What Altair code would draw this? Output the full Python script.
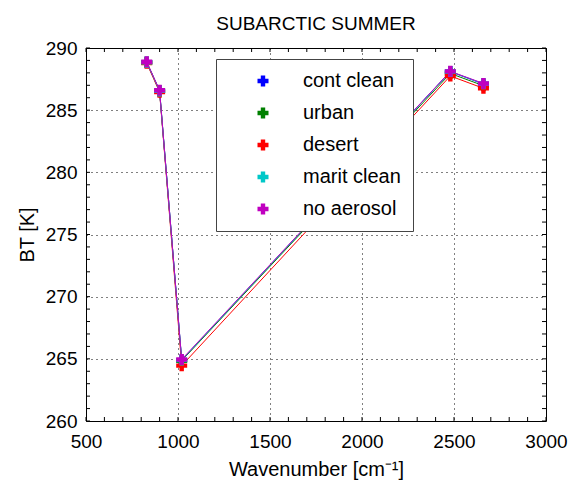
import altair as alt
import pandas as pd

# ---- data ----
wavenumber = [830, 900, 1020, 2480, 2660]
series_names = ["cont clean", "urban", "desert", "marit clean", "no aerosol"]
cont_clean = [288.85, 286.55, 264.90, 288.10, 287.10]
urban = [288.85, 286.55, 264.85, 287.95, 286.97]
desert = [288.78, 286.45, 264.45, 287.75, 286.76]
marit_clean = [288.85, 286.55, 264.90, 288.10, 287.12]
no_aerosol = [288.90, 286.60, 264.95, 288.12, 287.15]
series_colors = ["#0000FF", "#008000", "#FF0000", "#00C8C8", "#C000C0"]

x_major = [500, 1000, 1500, 2000, 2500, 3000]
y_major = [260, 265, 270, 275, 280, 285, 290]
x_minor = list(range(500, 3001, 100))
y_minor = list(range(260, 291, 1))

FONT = "Liberation Sans"

rows = []
for name, vals in zip(series_names,
                      [cont_clean, urban, desert, marit_clean, no_aerosol]):
    for w, v in zip(wavenumber, vals):
        rows.append({"series": name, "wn": w, "bt": v})
df = pd.DataFrame(rows)

xscale = alt.Scale(domain=[500, 3000], nice=False, zero=False)
yscale = alt.Scale(domain=[260, 290], nice=False, zero=False)
xaxis = alt.Axis(values=x_major, format="d", grid=True, gridColor="black",
                 gridDash=[1, 4], gridOpacity=1, ticks=False, domain=False,
                 labelFont=FONT, labelFontSize=19, labelColor="black",
                 labelPadding=11, titleFont=FONT, titleFontSize=20,
                 titleFontWeight="normal", titleColor="black", titlePadding=8,
                 labelFlush=False)
yaxis = alt.Axis(values=y_major, format="d", grid=True, gridColor="black",
                 gridDash=[1, 4], gridOpacity=1, ticks=False, domain=False,
                 labelFont=FONT, labelFontSize=19, labelColor="black",
                 labelPadding=9, titleFont=FONT, titleFontSize=20,
                 titleFontWeight="normal", titleColor="black", titlePadding=8,
                 labelFlush=False)
xenc = alt.X("wn:Q", scale=xscale, axis=xaxis, title="Wavenumber [cm⁻¹]")
yenc = alt.Y("bt:Q", scale=yscale, axis=yaxis, title="BT [K]")

cscale = alt.Scale(domain=series_names, range=series_colors)

line_layers = []
for name, col in zip(series_names, series_colors):
    line_layers.append(
        alt.Chart(df).transform_filter(alt.datum.series == name)
        .mark_line(strokeWidth=1, color=col)
        .encode(x=xenc, y=yenc)
    )

points = alt.Chart(df).mark_point(shape="cross", filled=True, size=121, opacity=1).encode(
    x=xenc, y=yenc,
    color=alt.Color("series:N", scale=cscale, title="",
                    legend=alt.Legend(orient="none", legendX=130, legendY=11,
                                      symbolType="cross", symbolSize=121,
                                      symbolStrokeWidth=0, symbolOpacity=1,
                                      labelFont=FONT, labelFontSize=20,
                                      labelColor="black", labelOffset=30,
                                      symbolOffset=25, rowPadding=12,
                                      padding=12, strokeColor="#444444",
                                      fillColor="white", cornerRadius=0)),
)

xm = pd.DataFrame({"wn": x_minor})
ym = pd.DataFrame({"bt": y_minor})
xt_bottom = alt.Chart(xm).mark_rule(color="black", strokeWidth=1).encode(
    x=xenc, y=alt.value(373), y2=alt.value(369))
xt_top = alt.Chart(xm).mark_rule(color="black", strokeWidth=1).encode(
    x=xenc, y=alt.value(0), y2=alt.value(4))
yt_left = alt.Chart(ym).mark_rule(color="black", strokeWidth=1).encode(
    y=yenc, x=alt.value(0), x2=alt.value(4))
yt_right = alt.Chart(ym).mark_rule(color="black", strokeWidth=1).encode(
    y=yenc, x=alt.value(460), x2=alt.value(456))

chart = alt.layer(xt_bottom, xt_top, yt_left, yt_right, *line_layers, points).properties(
    width=460, height=373,
    title=alt.Title("SUBARCTIC SUMMER", font=FONT, fontSize=19,
                    fontWeight="normal", color="black", offset=5),
    autosize=alt.AutoSizeParams(type="none"),
    padding={"left": 86, "top": 48, "right": 26, "bottom": 69},
    background="white",
).configure_view(stroke="black", strokeWidth=1, fill="white")

chart.save("out.html", embed_options={"renderer": "svg", "actions": False})
